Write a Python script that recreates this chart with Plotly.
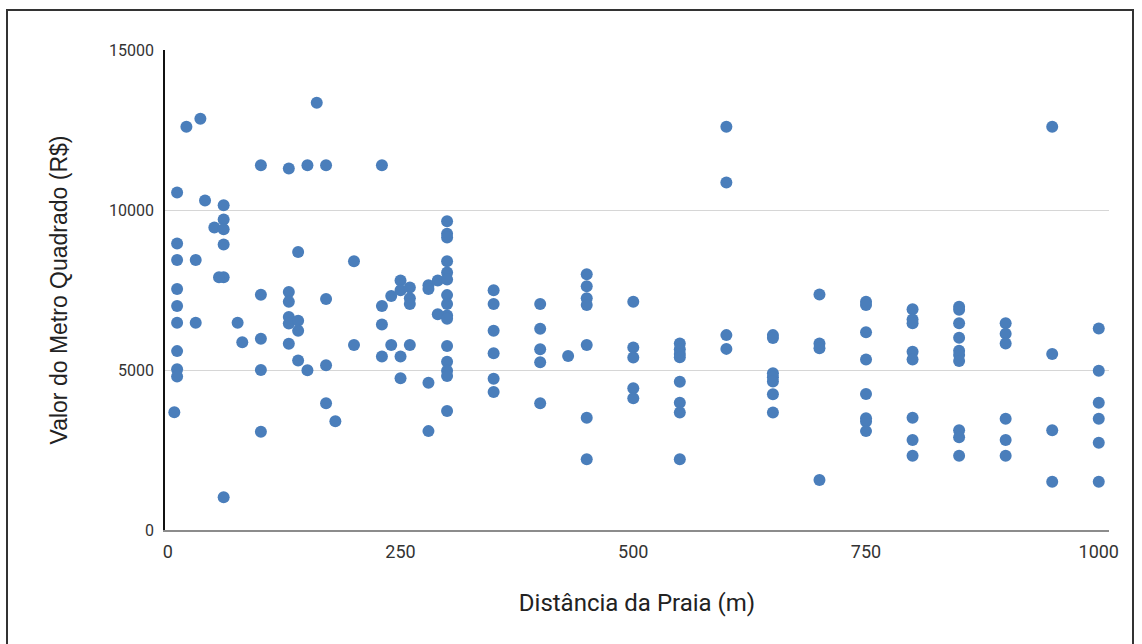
import plotly.graph_objects as go

# Distância da Praia (m) e Valor do Metro Quadrado (R$)
distancia_m = (
    [10] * 9 + [7, 20, 35, 30, 30, 40, 50]
    + [60] * 6 + [55, 75, 80]
    + [100] * 5 + [130] * 6 + [140] * 4 + [150] * 2 + [160] + [170] * 4 + [180]
    + [200] * 2 + [230] * 4 + [240] * 2 + [250] * 4 + [260] * 4 + [280] * 4
    + [290] * 2 + [300] * 15 + [350] * 6 + [400] * 5 + [430] + [450] * 7
    + [500] * 5 + [550] * 8 + [600] * 4 + [650] * 7 + [700] * 4 + [750] * 8
    + [800] * 8 + [850] * 10 + [900] * 6 + [950] * 4 + [1000] * 6
)
valor_m2 = (
    [10550, 8950, 8440, 7530, 7000, 6480, 5590, 5020, 4800]
    + [3680, 12600, 12850, 8440, 6480, 10300, 9450]
    + [10150, 9700, 9400, 8920, 7900, 1020]
    + [7900, 6480, 5870]
    + [11400, 7350, 5980, 5000, 3070]
    + [11300, 7440, 7130, 6660, 6450, 5820]
    + [8690, 6540, 6230, 5300]
    + [11400, 4990]
    + [13350]
    + [11400, 7220, 5150, 3960]
    + [3400]
    + [8400, 5780]
    + [11400, 7000, 6420, 5420]
    + [7310, 5780]
    + [7800, 7490, 5420, 4740]
    + [7580, 7240, 7060, 5780]
    + [7650, 7530, 4600, 3090]
    + [7800, 6740]
    + [9650, 9260, 9140, 8400, 8050, 7830, 7340, 7060, 6700, 6600, 5750, 5260, 4980, 4810, 3720]
    + [7490, 7060, 6230, 5520, 4730, 4310]
    + [7060, 6290, 5650, 5240, 3960]
    + [5440]
    + [7990, 7620, 7240, 7030, 5780, 3510, 2210]
    + [7130, 5700, 5390, 4430, 4120]
    + [5830, 5650, 5500, 5400, 4630, 3980, 3670, 2210]
    + [12600, 10860, 6090, 5660]
    + [6090, 6000, 4900, 4770, 4640, 4240, 3670]
    + [7360, 5830, 5680, 1560]
    + [7130, 7030, 6180, 5330, 4250, 3490, 3390, 3090]
    + [6900, 6580, 6460, 5570, 5330, 3510, 2810, 2320]
    + [6980, 6880, 6460, 6010, 5600, 5470, 5280, 3120, 2900, 2320]
    + [6460, 6130, 5830, 3480, 2810, 2320]
    + [12600, 5500, 3120, 1510]
    + [6300, 4980, 3980, 3480, 2730, 1510]
)

x_ticks = [0, 250, 500, 750, 1000]
y_ticks = [0, 5000, 10000, 15000]

fig = go.Figure()
fig.add_trace(go.Scatter(
    x=distancia_m, y=valor_m2, mode="markers",
    marker=dict(color="#4a7ebb", size=12, line=dict(width=0)),
    showlegend=False,
))

L, R, T, B = 165, 33, 50, 114
W, H = 1142, 644
pw, ph = W - L - R, H - T - B

fig.update_layout(
    width=W, height=H,
    margin=dict(l=L, r=R, t=T, b=B),
    paper_bgcolor="white", plot_bgcolor="white",
    font=dict(family="Roboto", color="#444"),
    xaxis=dict(
        range=[-3, 1011], tickvals=x_ticks, ticktext=[str(v) for v in x_ticks],
        showgrid=False, zeroline=False, showline=True, linecolor="#8c8c8c", linewidth=2,
        ticks="", tickfont=dict(size=18, color="#333"), ticklabelstandoff=4,
        title=dict(text="Distância da Praia (m)", font=dict(family="Roboto", size=24, color="#222"), standoff=34),
    ),
    yaxis=dict(
        range=[0, 15000], tickvals=y_ticks, ticktext=[str(v) for v in y_ticks],
        showgrid=True, gridcolor="#d6d6d6", gridwidth=1, zeroline=False,
        showline=True, linecolor="#111", linewidth=1.5,
        ticks="", tickfont=dict(size=16, color="#333"), ticklabelstandoff=6,
        title=dict(text="Valor do Metro Quadrado (R$)", font=dict(family="Liberation Sans", size=23, color="#222"), standoff=35),
    ),
    shapes=[dict(
        type="rect", xref="paper", yref="paper",
        x0=(7 - L) / pw, x1=(1133 - L) / pw,
        y0=(H - B - 660) / ph, y1=(H - B - 10) / ph,
        line=dict(color="#333", width=2), fillcolor="rgba(0,0,0,0)", layer="below",
    )],
)

fig.write_html("out.html", config={"displayModeBar": False},
               post_script="document.body.style.margin='0';")
